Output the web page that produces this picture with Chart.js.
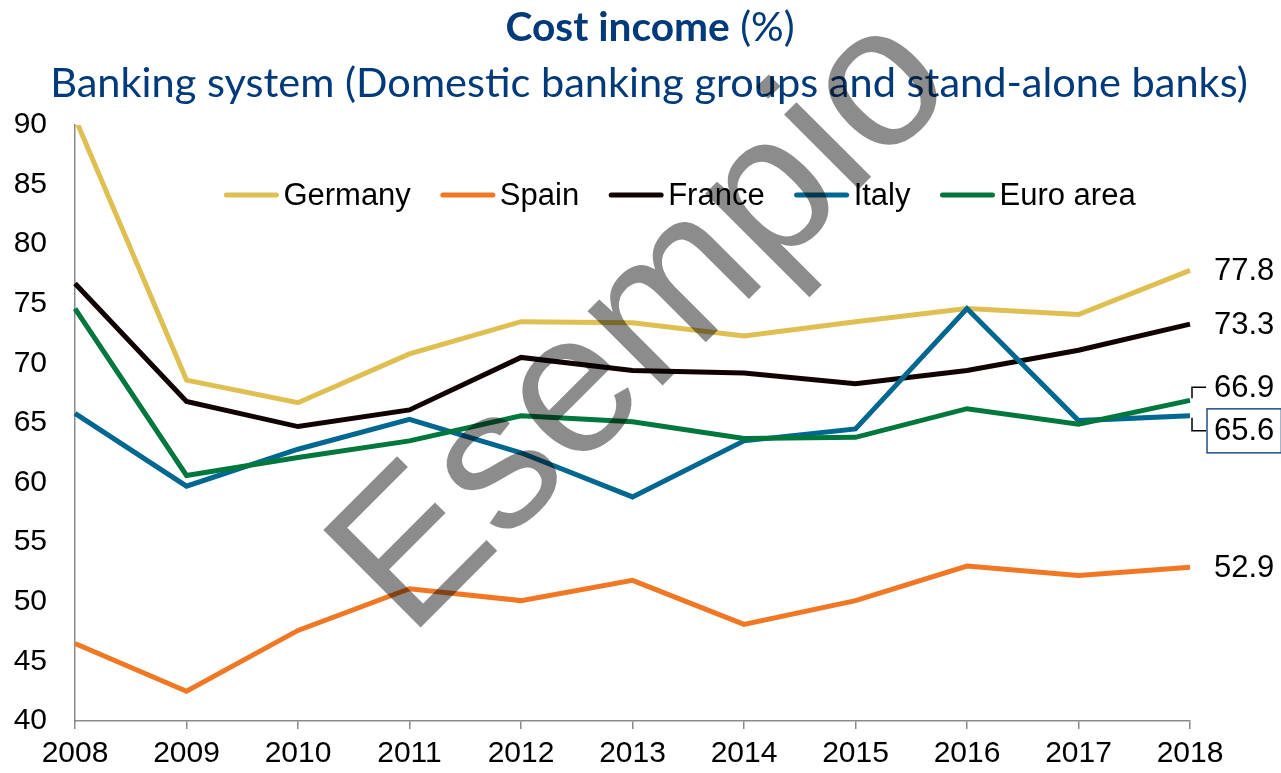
<!DOCTYPE html>
<html>
<head>
<meta charset="utf-8">
<script src="https://cdn.jsdelivr.net/npm/chart.js@4.4.1/dist/chart.umd.min.js"></script>
<style>
  html, body { margin: 0; padding: 0; background: #fff; }
  #wrap { width: 1281px; height: 773px; }
</style>
</head>
<body>
<div id="wrap"><canvas id="cost-income"></canvas></div>
<script>
// cost income ratio, % (banking system)
const years = ["2008", "2009", "2010", "2011", "2012", "2013", "2014", "2015", "2016", "2017", "2018"];
const germany = [90.6, 68.6, 66.7, 70.8, 73.5, 73.4, 72.3, 73.5, 74.6, 74.1, 77.8];
const spain = [46.5, 42.5, 47.6, 51.1, 50.1, 51.8, 48.1, 50.1, 53.0, 52.2, 52.9];
const france = [76.7, 66.8, 64.7, 66.1, 70.5, 69.4, 69.2, 68.3, 69.4, 71.1, 73.3];
const italy = [65.8, 59.7, 62.8, 65.3, 62.5, 58.8, 63.5, 64.5, 74.6, 65.2, 65.6];
const euroArea = [74.6, 60.6, 62.1, 63.5, 65.6, 65.1, 63.7, 63.8, 66.2, 64.9, 66.9];
const yTicks = [40, 45, 50, 55, 60, 65, 70, 75, 80, 85, 90];

const titleBold = "Cost income";
const titleRest = " (%)";
const subtitle = "Banking system (Domestic banking groups and stand-alone banks)";
const watermark = "Esempio";

const navy = "#003a7a";
const axisGrey = "#8a8a8a";
const labelFont = '31px "Liberation Sans", Arial, sans-serif';

// font size that makes a string fill a given width
function fitFont(ctx, text, weight, family, width) {
  ctx.font = weight + " 40px " + family;
  return 40 * width / ctx.measureText(text).width;
}

const decorations = {
  id: "decorations",
  afterDraw(chart) {
    const ctx = chart.ctx;
    const area = chart.chartArea;
    const family = 'Lato, "Open Sans", sans-serif';
    ctx.save();

    // title: bold part + regular part, centred
    ctx.fillStyle = navy;
    ctx.textBaseline = "middle";
    ctx.textAlign = "left";
    const tSize = fitFont(ctx, titleBold + titleRest, "bold", family, 290);
    ctx.font = "bold " + tSize + "px " + family;
    const wBold = ctx.measureText(titleBold).width;
    ctx.font = tSize + "px " + family;
    const wRest = ctx.measureText(titleRest).width;
    const tx = 650 - (wBold + wRest) / 2;
    ctx.font = "bold " + tSize + "px " + family;
    ctx.fillText(titleBold, tx, 28);
    ctx.font = tSize + "px " + family;
    ctx.fillText(titleRest, tx + wBold, 28);

    // subtitle
    const sSize = fitFont(ctx, subtitle, "normal", family, 1198);
    ctx.font = sSize + "px " + family;
    ctx.textAlign = "center";
    ctx.fillText(subtitle, 649, 84);

    // legend inside the plot
    ctx.font = labelFont;
    ctx.textAlign = "left";
    const items = chart.data.datasets.map(ds => ({
      label: ds.label, color: ds.borderColor, w: ctx.measureText(ds.label).width
    }));
    const lineLen = 54, gapText = 5, gapItem = 30;
    const total = items.reduce((s, it) => s + lineLen + gapText + it.w, 0) + gapItem * (items.length - 1);
    let lx = 680 - total / 2;
    const ly = area.top + 70;
    items.forEach(it => {
      ctx.strokeStyle = it.color;
      ctx.lineWidth = 5;
      ctx.lineCap = "round";
      ctx.beginPath();
      ctx.moveTo(lx + 2, ly);
      ctx.lineTo(lx + lineLen - 2, ly);
      ctx.stroke();
      ctx.fillStyle = "#000";
      ctx.fillText(it.label, lx + lineLen + gapText, ly + 1);
      lx += lineLen + gapText + it.w + gapItem;
    });

    // values at the end of each line
    ctx.lineCap = "butt";
    chart.data.datasets.forEach((ds, i) => {
      const meta = chart.getDatasetMeta(i);
      const last = ds.data.length - 1;
      const x = meta.data[last].x;
      const y = chart.scales.y.getPixelForValue(ds.data[last]);
      const shift = ds.labelShift || 0;
      const ty = y + shift;
      const text = ds.data[last].toFixed(1);
      const textX = x + 24;
      ctx.fillStyle = "#000";
      ctx.font = labelFont;
      ctx.fillText(text, textX, ty + 1);
      if (shift) {
        ctx.strokeStyle = "#000";
        ctx.lineWidth = 1.5;
        ctx.beginPath();
        ctx.moveTo(x + 2, y + Math.sign(shift) * 2);
        ctx.lineTo(x + 2, ty);
        ctx.lineTo(x + 16, ty);
        ctx.stroke();
      }
      if (ds.labelBox) {
        const w = ctx.measureText(text).width;
        ctx.strokeStyle = "#1f4e8c";
        ctx.lineWidth = 1.5;
        ctx.strokeRect(textX - 7, ty - 22, w + 14, 44);
      }
    });

    // diagonal watermark over everything
    ctx.translate(409, 639);
    ctx.rotate(-Math.PI / 4);
    ctx.font = '200px "Liberation Sans", Arial, sans-serif';
    ctx.fillStyle = "rgba(0,0,0,0.45)";
    ctx.textBaseline = "alphabetic";
    ctx.fillText(watermark, 0, 0);
    ctx.restore();
  }
};

function series(label, data, color, order, extra) {
  return Object.assign({
    label: label,
    data: data,
    borderColor: color,
    backgroundColor: color,
    borderWidth: 5,
    pointRadius: 0,
    tension: 0,
    fill: false,
    order: order
  }, extra || {});
}

new Chart(document.getElementById("cost-income"), {
  type: "line",
  data: {
    labels: years,
    datasets: [
      series("Germany", germany, "#dfbf52", 5),
      series("Spain", spain, "#f07824", 4),
      series("France", france, "#120303", 3),
      series("Italy", italy, "#006890", 2, { labelShift: 15, labelBox: true }),
      series("Euro area", euroArea, "#00773c", 1, { labelShift: -13 })
    ]
  },
  options: {
    responsive: true,
    maintainAspectRatio: false,
    animation: false,
    layout: { padding: { top: 125, right: 91, bottom: 4, left: 14 } },
    plugins: {
      legend: { display: false },
      title: { display: false },
      tooltip: { enabled: false }
    },
    scales: {
      x: {
        offset: false,
        grid: { display: true, drawOnChartArea: false, drawTicks: true, tickLength: 8, color: axisGrey, lineWidth: 1.5 },
        border: { display: true, color: axisGrey, width: 1.5 },
        afterFit: axis => { axis.height = 48; },
        ticks: { color: "#000", padding: 7, maxRotation: 0, font: { family: '"Liberation Sans", Arial, sans-serif', size: 30 } }
      },
      y: {
        min: yTicks[0],
        max: yTicks[yTicks.length - 1],
        grid: { display: false, drawTicks: false },
        border: { display: true, color: axisGrey, width: 1.5 },
        afterFit: axis => { axis.width = 61; },
        afterBuildTicks: axis => { axis.ticks = yTicks.map(v => ({ value: v })); },
        ticks: { color: "#000", padding: 28, font: { family: '"Liberation Sans", Arial, sans-serif', size: 30 } }
      }
    }
  },
  plugins: [decorations]
});
</script>
</body>
</html>
